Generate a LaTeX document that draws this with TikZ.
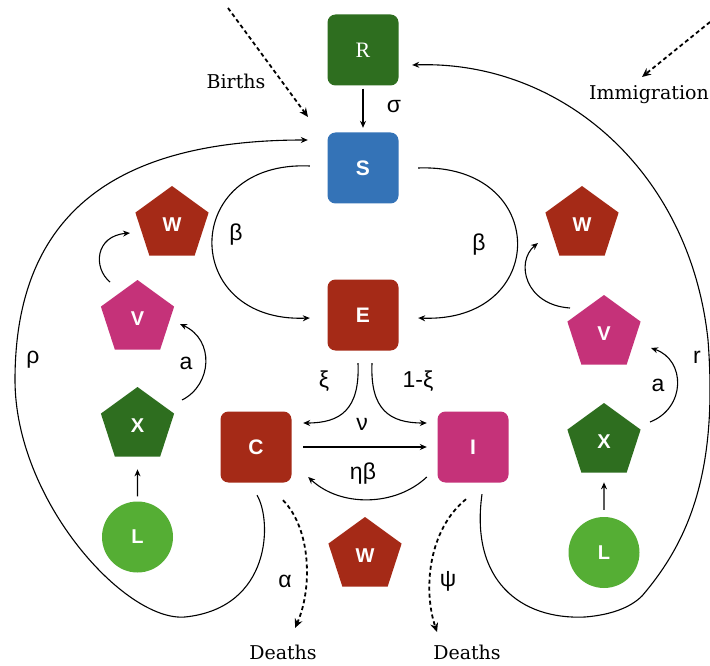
\documentclass[tikz,border=0pt]{standalone}
\usepackage{fontspec}
\setmainfont{DejaVu Serif}
\newfontfamily\lsans{Liberation Sans}
\newfontfamily\lserif{Liberation Serif}
\usetikzlibrary{shapes.geometric,arrows.meta,calc}
\definecolor{cgreen}{HTML}{2E6E1F}
\definecolor{cblue}{HTML}{3473B7}
\definecolor{cred}{HTML}{A52A17}
\definecolor{cpink}{HTML}{C53279}
\definecolor{clight}{HTML}{55AE34}
\begin{document}
\begin{tikzpicture}[x=1pt,y=-1pt,
  box/.style={rectangle, rounded corners=8pt, minimum width=71pt, minimum height=71pt, inner sep=0pt, text=white, font=\lsans\bfseries\fontsize{21}{21}\selectfont},
  pent/.style={regular polygon, regular polygon sides=5, minimum size=77pt, inner sep=0pt, text=white, font=\lsans\bfseries\fontsize{20}{20}\selectfont},
  circ/.style={circle, minimum size=71pt, inner sep=0pt, fill=clight, text=white, font=\lsans\bfseries\fontsize{20}{20}\selectfont},
  arr/.style={line width=1.1pt, -{Stealth[length=7pt,width=6pt]}},
  dasharr/.style={line width=1.8pt, dash pattern=on 4pt off 3pt, -{Stealth[length=9pt,width=8pt]}},
  lab/.style={font=\lsans\fontsize{23}{23}\selectfont},
  ext/.style={font=\fontsize{19}{19}\selectfont}
]
\useasboundingbox (0,0) rectangle (710,666);
\fill[white] (0,0) rectangle (710,666);

% compartments
\node[box, fill=cgreen, font=\lserif\fontsize{22}{22}\selectfont] (R) at (363,50) {R};
\node[box, fill=cblue] (S) at (363,168) {S};
\node[box, fill=cred] (E) at (363,315) {E};
\node[box, fill=cred] (C) at (256,447) {C};
\node[box, fill=cpink] (I) at (473,447) {I};

% vectors
\node[pent, fill=cred] (W1) at (172,224.5) {W};
\node[pent, fill=cpink] (V1) at (137.5,318.5) {V};
\node[pent, fill=cgreen] (X1) at (137.5,425.5) {X};
\node[circ] (L1) at (137.5,537) {L};
\node[pent, fill=cred] (W2) at (582,224.5) {W};
\node[pent, fill=cpink] (V2) at (604,333.5) {V};
\node[pent, fill=cgreen] (X2) at (604,441.5) {X};
\node[circ] (L2) at (604,552.5) {L};
\node[pent, fill=cred] (W3) at (365,555.5) {W};

% external texts
\node[ext] (births) at (236,81) {Births};
\node[ext] (immig) at (649,95) {Immigration};
\node[ext] (d1) at (283,652) {Deaths};
\node[ext] (d2) at (467,652) {Deaths};
\coordinate (bstart) at (228,8);
\coordinate (bend) at (308,117);
\coordinate (istart) at (710,22);
\coordinate (iend) at (642,77);
\coordinate (d1t) at (295,628);
\coordinate (d2t) at (437,632);

% labels
\node[lab] at (394,107) {σ};
\node[lab] at (236,235) {β};
\node[lab] at (479,245) {β};
\node[lab] at (324,381) {ξ};
\node[lab] at (418,381) {1-ξ};
\node[lab] at (362,424) {ν};
\node[lab] at (363,474) {ηβ};
\node[lab] at (33,360) {ρ};
\node[lab] at (186,363) {a};
\node[lab] at (658,385) {a};
\node[lab] at (697,357) {r};
\node[lab] at (285,581) {α};
\node[lab] at (448,581) {ψ};

% connectors
\draw[arr] ([yshift=-3pt]R.south) -- ([yshift=4.5pt]S.north);
\draw[dasharr] (bstart) -- (bend);
\draw[dasharr] (istart) -- (iend);

\draw[arr] ([xshift=-17.5pt,yshift=2pt]S.west) .. controls (180,160) and (180,323) .. ([xshift=-17.5pt,yshift=-3pt]E.west);
\draw[arr] ([xshift=19.5pt]S.east) .. controls (550,163) and (550,323) .. ([xshift=19.5pt,yshift=-3pt]E.east);

\draw[arr] ([xshift=-5pt,yshift=-12.5pt]E.south) .. controls (360,410) and (340,423) .. ([xshift=11.5pt,yshift=24pt]C.east);
\draw[arr] ([xshift=9pt,yshift=-12.5pt]E.south) .. controls (370,410) and (390,423) .. ([xshift=-10.5pt,yshift=24pt]I.west);
\draw[arr] ([xshift=11.5pt]C.east) -- ([xshift=-10.5pt]I.west);
\draw[arr] ([xshift=-10.5pt,yshift=-30pt]I.west) .. controls (395,507) and (340,507) .. ([xshift=16.5pt,yshift=-30pt]C.east);

\draw[dasharr] ([xshift=27pt,yshift=-17.5pt]C.south) .. controls (312,530) and (312,590) .. (d1t);
\draw[dasharr] ([xshift=-7pt,yshift=-16.5pt]I.south) .. controls (428,530) and (423,590) .. (d2t);

% big loops
\draw[arr] ([xshift=1pt,yshift=-12.5pt]C.south) .. controls (272,520) and (272,608) .. (185,617)
  .. controls (125,622) and (15,500) .. (15,380)
  .. controls (15,210) and (120,140) .. ([xshift=-19.5pt,yshift=28pt]S.west);
\draw[arr] ([xshift=9pt,yshift=-11.5pt]I.south) .. controls (470,580) and (520,620) .. (585,617)
  .. controls (610,615) and (630,608) .. (642,596)
  .. controls (690,540) and (718,470) .. (708,340)
  .. controls (690,170) and (560,60) .. ([xshift=13.5pt,yshift=-15pt]R.east);

% vector arrows left
\draw[arr] ([yshift=5pt]L1.north) -- ([yshift=-12.5pt]X1.south);
\draw[arr] ([xshift=44.5pt,yshift=25.5pt]X1.center) .. controls (212,385) and (215,340) .. ([xshift=42.5pt,yshift=-5.5pt]V1.center);
\draw[arr] ([xshift=-27.5pt,yshift=36.5pt]V1.center) .. controls (93,268) and (95,236) .. ([xshift=-42pt,yshift=-8.5pt]W1.center);
% vector arrows right
\draw[arr] ([yshift=7pt]L2.north) -- ([yshift=-9.5pt]X2.south);
\draw[arr] ([xshift=46pt,yshift=19.5pt]X2.center) .. controls (686,408) and (686,360) .. ([xshift=47pt,yshift=-14.5pt]V2.center);
\draw[arr] ([xshift=-34pt,yshift=25.5pt]V2.center) .. controls (525,305) and (515,262) .. ([xshift=-44pt,yshift=-18.5pt]W2.center);
\end{tikzpicture}
\end{document}
